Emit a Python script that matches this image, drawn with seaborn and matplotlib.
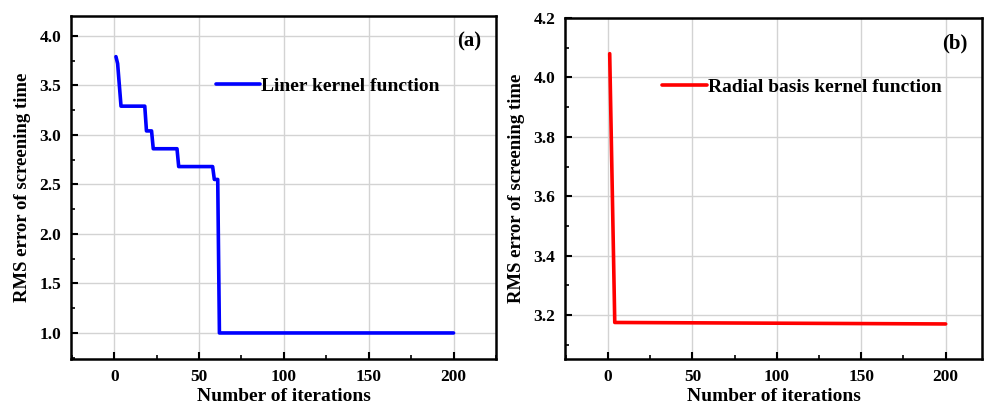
import matplotlib
matplotlib.use("Agg")
import matplotlib.pyplot as plt
from matplotlib.ticker import MultipleLocator
import seaborn as sns
import pandas as pd

# ---- data ----
iter_linear = [1, 2, 4, 18, 19, 22, 23, 37, 38, 58, 59, 61, 62, 200]
rms_linear = [3.79, 3.72, 3.29, 3.29, 3.04, 3.04, 2.86, 2.86, 2.68, 2.68, 2.55, 2.55, 1.0, 1.0]
iter_rbf = [1, 4, 200]
rms_rbf = [4.08, 3.175, 3.17]
label_linear = "Liner kernel function"
label_rbf = "Radial basis kernel function"
x_ticks = [0, 50, 100, 150, 200]

sns.set_theme(style="whitegrid")
plt.rcParams["font.family"] = ["Liberation Serif", "DejaVu Serif"]
plt.rcParams["font.weight"] = "bold"
plt.rcParams["axes.labelweight"] = "bold"
plt.rcParams["text.color"] = "black"
plt.rcParams["axes.labelcolor"] = "black"
plt.rcParams["xtick.color"] = "black"
plt.rcParams["ytick.color"] = "black"

df_a = pd.DataFrame({"iter": iter_linear, "rms": rms_linear, "series": label_linear})
df_b = pd.DataFrame({"iter": iter_rbf, "rms": rms_rbf, "series": label_rbf})

fig = plt.figure(figsize=(9.87, 4.11), dpi=100)
ax1 = fig.add_axes([0.0719, 0.1265, 0.4306, 0.8345])
ax2 = fig.add_axes([0.5724, 0.1265, 0.4225, 0.8297])

sns.lineplot(data=df_a, x="iter", y="rms", hue="series", palette=["#0000ff"],
             ax=ax1, linewidth=2.6, sort=False, estimator=None)
sns.lineplot(data=df_b, x="iter", y="rms", hue="series", palette=["#ff0000"],
             ax=ax2, linewidth=2.6, sort=False, estimator=None)

ax1.set_xlim(-25.5, 225)
ax1.yaxis.set_major_locator(MultipleLocator(0.5))
ax1.yaxis.set_minor_locator(MultipleLocator(0.25))
ax2.set_xlim(-25.5, 221.5)
ax2.yaxis.set_major_locator(MultipleLocator(0.2))
ax2.yaxis.set_minor_locator(MultipleLocator(0.1))

for ax, tag, leg_anchor in [(ax1, "(a)", (0.322, 0.795)), (ax2, "(b)", (0.215, 0.797))]:
    ax.set_xticks(x_ticks)
    ax.xaxis.set_minor_locator(MultipleLocator(25))
    ax.grid(True, which="major", color="#d3d3d3", linewidth=1.0)
    ax.grid(False, which="minor")
    for s in ax.spines.values():
        s.set_visible(True)
        s.set_color("black")
        s.set_linewidth(1.8)
    ax.tick_params(which="major", direction="in", length=5, width=1.5, color="black",
                   labelcolor="black", labelsize=12.5, pad=7, top=False, right=False,
                   left=True, bottom=True)
    ax.tick_params(which="minor", direction="in", length=3, width=1.2, color="black",
                   top=False, right=False, left=True, bottom=True)
    ax.set_xlabel("Number of iterations", fontsize=14, fontweight="bold", labelpad=2,
                  color="black")
    ax.set_ylabel("RMS error of screening time", fontsize=13.5, fontweight="bold",
                  labelpad=6, color="black")
    ax.text(0.965, 0.955, tag, transform=ax.transAxes, ha="right", va="top",
            fontsize=15, fontweight="bold", color="black")
    leg = ax.legend(loc="center left", bbox_to_anchor=leg_anchor, frameon=False,
                    prop={"size": 14, "weight": "bold"}, handlelength=2.3,
                    handletextpad=0.05, borderaxespad=0)

ax1.set_yticks(ax1.get_yticks())
ax2.set_yticks(ax2.get_yticks())
ax1.set_yticklabels([f"{v:.1f}" for v in ax1.get_yticks()], fontweight="bold")
ax2.set_yticklabels([f"{v:.1f}" for v in ax2.get_yticks()], fontweight="bold")
for ax in (ax1, ax2):
    for lab in ax.get_xticklabels():
        lab.set_fontweight("bold")
ax1.set_ylim(0.737, 4.2)
ax2.set_ylim(3.052, 4.2)

fig.savefig("out.png", dpi=100)
